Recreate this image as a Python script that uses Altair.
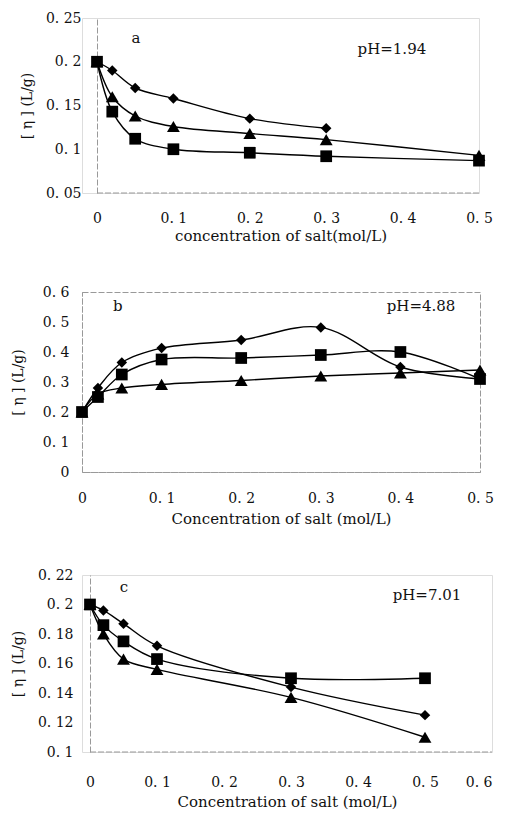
import altair as alt
import pandas as pd

# ---------------- data ----------------
# panel a (pH=1.94)
a_x_diamond = [0, 0.02, 0.05, 0.1, 0.2, 0.3]
a_y_diamond = [0.200, 0.190, 0.170, 0.158, 0.135, 0.124]
a_x_triangle = [0, 0.02, 0.05, 0.1, 0.2, 0.3, 0.5]
a_y_triangle = [0.200, 0.160, 0.138, 0.126, 0.118, 0.111, 0.093]
a_x_square = [0, 0.02, 0.05, 0.1, 0.2, 0.3, 0.5]
a_y_square = [0.200, 0.143, 0.112, 0.100, 0.096, 0.092, 0.087]

# panel b (pH=4.88)
b_x = [0, 0.02, 0.05, 0.1, 0.2, 0.3, 0.4, 0.5]
b_y_diamond = [0.20, 0.280, 0.365, 0.413, 0.440, 0.482, 0.350, 0.310]
b_y_square = [0.20, 0.250, 0.325, 0.375, 0.380, 0.390, 0.400, 0.310]
b_y_triangle = [0.20, 0.260, 0.280, 0.292, 0.305, 0.320, 0.330, 0.340]

# panel c (pH=7.01)
c_x = [0, 0.02, 0.05, 0.1, 0.3, 0.5]
c_y_diamond = [0.200, 0.196, 0.187, 0.172, 0.144, 0.125]
c_y_square = [0.200, 0.186, 0.175, 0.163, 0.150, 0.150]
c_y_triangle = [0.200, 0.180, 0.163, 0.156, 0.137, 0.110]

# axis ranges and tick values
a_xrange, a_yrange = [0, 0.5], [0.05, 0.25]
b_xrange, b_yrange = [0, 0.5], [0, 0.6]
c_xrange, c_yrange = [0, 0.6], [0.1, 0.22]
a_xticks = [0, 0.1, 0.2, 0.3, 0.4, 0.5]
a_yticks = [0.05, 0.1, 0.15, 0.2, 0.25]
b_xticks = [0, 0.1, 0.2, 0.3, 0.4, 0.5]
b_yticks = [0, 0.1, 0.2, 0.3, 0.4, 0.5, 0.6]
c_xticks = [0, 0.1, 0.2, 0.3, 0.4, 0.5, 0.6]
c_yticks = [0.1, 0.12, 0.14, 0.16, 0.18, 0.2, 0.22]

series_names = ["diamond", "square", "triangle"]
shape_range = ["diamond", "square", "triangle-up"]
size_range = [110, 165, 160]

FONT = "DejaVu Serif"
AXIS_GRAY = "#999"


def frame(pairs):
    rows = []
    for name, xs, ys in pairs:
        for x, y in zip(xs, ys):
            rows.append({"s": name, "x": x, "y": y})
    return pd.DataFrame(rows)


df_a = frame([("diamond", a_x_diamond, a_y_diamond),
              ("triangle", a_x_triangle, a_y_triangle),
              ("square", a_x_square, a_y_square)])
df_b = frame([("diamond", b_x, b_y_diamond),
              ("square", b_x, b_y_square),
              ("triangle", b_x, b_y_triangle)])
df_c = frame([("diamond", c_x, c_y_diamond),
              ("square", c_x, c_y_square),
              ("triangle", c_x, c_y_triangle)])

LABEL_EXPR = "datum.value == 0 ? '0' : replace(datum.label, '.', '. ')"


def panel(df, xrange_, xvals, yrange_, yvals, xtitle, letter, letter_pos, ph, ph_pos,
          w, h, shift, xlab_pad, xtitle_pad, ylab_pad, ytitle_pad, box=False,
          flush_last=False):
    # the plot area is widened on the left by `shift` px, and the y axis is moved
    # into it so that x=0 sits at the axis (panels are left-aligned on the plot area)
    x0 = xrange_[0] - shift / w * (xrange_[1] - xrange_[0])
    common = dict(format="~g", labelExpr=LABEL_EXPR, grid=False, ticks=False,
                  domainColor=AXIS_GRAY, domainDash=[6, 2], labelFont=FONT,
                  labelFontSize=14, titleFont=FONT, titleFontWeight="normal",
                  labelColor="#111", titleColor="#111", labelOverlap=False,
                  labelFlush=False, minExtent=0)
    xextra = {}
    if flush_last:
        xextra["labelAlign"] = {"condition": {"test": "datum.value >= %g" % xrange_[1],
                                              "value": "right"},
                                "value": "center"}
    xaxis = alt.Axis(values=xvals, labelPadding=xlab_pad, title=xtitle,
                     titlePadding=xtitle_pad, titleFontSize=15,
                     domain=(shift == 0), **common, **xextra)
    yaxis = alt.Axis(values=yvals, labelPadding=ylab_pad, title="[ η ]  (L/g)",
                     titlePadding=ytitle_pad, titleFontSize=14, offset=-shift, **common)
    xscale = alt.Scale(domain=[x0, xrange_[1]], nice=False, zero=False)
    yscale = alt.Scale(domain=yrange_, nice=False, zero=False)
    x = alt.X("x:Q", scale=xscale, axis=xaxis)
    y = alt.Y("y:Q", scale=yscale, axis=yaxis)
    base = alt.Chart(df)
    lines = base.mark_line(color="black", strokeWidth=1.4,
                           interpolate="catmull-rom").encode(
        x=x, y=y, detail="s:N")
    points = base.mark_point(filled=True, color="black", opacity=1).encode(
        x=x, y=y,
        shape=alt.Shape("s:N", scale=alt.Scale(domain=series_names, range=shape_range),
                        legend=None),
        size=alt.Size("s:N", scale=alt.Scale(domain=series_names, range=size_range),
                      legend=None))

    def label(txt, pos):
        return alt.Chart().mark_text(font=FONT, fontSize=15, color="#111").encode(
            x=alt.X(datum=pos[0], scale=xscale, axis=xaxis),
            y=alt.Y(datum=pos[1], scale=yscale, axis=yaxis),
            text=alt.value(txt))

    layers = [lines, points, label(letter, letter_pos), label(ph, ph_pos)]
    if shift:
        baseline = alt.Chart().mark_rule(color=AXIS_GRAY, strokeDash=[6, 2],
                                         strokeWidth=1).encode(
            x=alt.X(datum=xrange_[0], scale=xscale, axis=xaxis),
            x2=alt.datum(xrange_[1]),
            y=alt.Y(datum=yrange_[0], scale=yscale, axis=yaxis))
        layers = [baseline] + layers
    ch = alt.layer(*layers).properties(width=w + shift, height=h)
    if box:
        ch = ch.properties(view=alt.ViewBackground(stroke=AXIS_GRAY, strokeDash=[6, 2],
                                                   strokeWidth=1))
    return ch


pa = panel(df_a, a_xrange, a_xticks, a_yrange, a_yticks, "concentration of salt(mol/L)",
           "a", (0.051, 0.227), "pH=1.94", (0.386, 0.2146),
           382, 175, 15, 18, 3, 16, 11)
pb = panel(df_b, b_xrange, b_xticks, b_yrange, b_yticks, "Concentration of salt (mol/L)",
           "b", (0.045, 0.553), "pH=4.88", (0.426, 0.553),
           398, 180, 0, 19, 6, 13, 17, box=True)
pc = panel(df_c, c_xrange, c_xticks, c_yrange, c_yticks, "Concentration of salt (mol/L)",
           "c", (0.0507, 0.2119), "pH=7.01", (0.503, 0.2064),
           402, 177, 8, 23, 5, 17, 12, flush_last=True)

chart = alt.vconcat(pa, pb, pc, spacing=40).properties(
    padding={"left": 2, "top": 2, "right": 0, "bottom": 0}
).configure_view(stroke="transparent").configure(background="white")

chart.save("out.html", embed_options={"renderer": "svg", "actions": False})
